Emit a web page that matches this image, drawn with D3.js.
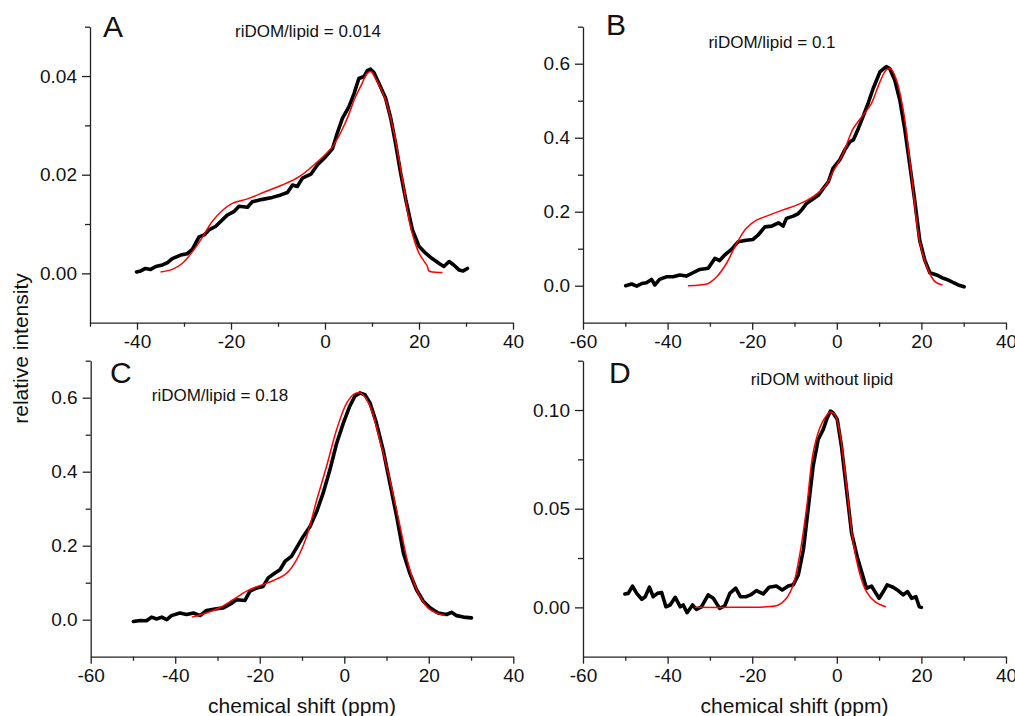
<!DOCTYPE html>
<html>
<head>
<meta charset="utf-8">
<script src="https://cdn.jsdelivr.net/npm/d3@7"></script>
<style>
	body { margin: 0; background: #fff; }
	svg text { font-family: "Liberation Sans", Arial, Helvetica, sans-serif; fill: #111; }
	.axis path, .axis line { stroke: #222; stroke-width: 1.3; }
</style>
</head>
<body>
<svg id="chart" width="1015" height="716"></svg>
<script>
// ---- data: [chemical shift (ppm), relative intensity] ----
const expA = [[-40.1,0.0003],[-39.2,0.0005],[-38.2,0.001],[-37.1,0.0008],[-36.0,0.0014],[-34.6,0.0017],
	[-33.5,0.0022],[-32.5,0.003],[-30.7,0.0037],[-29.3,0.004],[-28.2,0.0049],[-26.8,0.0074],[-25.7,0.0078],
	[-24.7,0.0088],[-23.3,0.0095],[-22.2,0.0105],[-20.8,0.0118],[-19.4,0.0125],[-18.3,0.0136],[-16.5,0.0134],
	[-15.5,0.0145],[-13.3,0.015],[-11.2,0.0154],[-9.4,0.0159],[-8.0,0.0164],[-6.9,0.0179],[-5.9,0.0176],
	[-4.8,0.0193],[-3.0,0.0201],[-1.6,0.022],[0.1,0.0236],[1.6,0.0253],[2.6,0.0284],[3.7,0.0314],[5.1,0.0338],
	[6.2,0.0365],[7.2,0.0395],[8.3,0.0399],[9.0,0.0411],[9.7,0.0414],[10.4,0.0407],[11.5,0.0385],[12.9,0.0355],
	[14.0,0.0314],[15.0,0.0264],[16.1,0.0203],[17.2,0.0149],[18.6,0.0088],[20.0,0.0055],[21.4,0.0041],
	[22.8,0.003],[24.3,0.002],[25.3,0.0014],[26.4,0.0024],[27.4,0.0017],[28.5,0.0007],[29.4,0.0005],[30.3,0.001]];
const fitA = [[-35.0,0.0003],[-32.5,0.0008],[-30.4,0.002],[-28.2,0.0044],[-26.1,0.0073],[-24.0,0.0105],
	[-21.8,0.0128],[-19.7,0.0142],[-16.2,0.0152],[-12.6,0.0166],[-9.1,0.0179],[-5.5,0.0196],[-2.0,0.0223],
	[1.6,0.0257],[4.4,0.0307],[6.5,0.0358],[7.9,0.0385],[8.7,0.0402],[9.7,0.0409],[11.1,0.0389],[12.9,0.0351],
	[14.7,0.0284],[16.5,0.0189],[18.2,0.0095],[20.0,0.0041],[21.8,0.0014],[22.1,0.0005],[25.0,0.0002]];

const expB = [[-49.9,0.0],[-48.5,0.0045],[-47.3,-0.001],[-46.1,0.006],[-45.0,0.008],[-43.8,0.017],[-43.0,0.002],
	[-41.9,0.017],[-40.3,0.024],[-38.7,0.024],[-37.1,0.029],[-35.6,0.026],[-34.0,0.035],[-32.4,0.044],[-30.4,0.047],
	[-28.8,0.074],[-27.7,0.068],[-26.5,0.083],[-24.9,0.098],[-23.3,0.119],[-21.4,0.123],[-19.8,0.125],[-18.6,0.137],
	[-17.0,0.159],[-15.4,0.161],[-13.8,0.170],[-12.7,0.161],[-11.9,0.182],[-10.3,0.188],[-9.1,0.195],[-8.3,0.205],
	[-7.1,0.223],[-5.9,0.232],[-4.3,0.245],[-3.2,0.263],[-2.0,0.281],[-0.9,0.317],[0.7,0.340],[1.9,0.367],
	[3.1,0.389],[3.9,0.394],[5.1,0.425],[6.2,0.457],[7.4,0.493],[8.6,0.533],[10.2,0.578],[11.7,0.592],[12.5,0.587],
	[13.7,0.556],[14.9,0.502],[16.1,0.421],[17.2,0.331],[18.4,0.232],[19.6,0.123],[20.8,0.069],[22.0,0.035],
	[23.6,0.029],[25.2,0.020],[26.4,0.015],[27.6,0.008],[28.7,0.002],[30.1,-0.003]];
const fitB = [[-35.2,0.0],[-32.4,0.002],[-30.4,0.006],[-28.4,0.024],[-26.1,0.060],[-23.7,0.114],[-21.4,0.155],
	[-19.0,0.177],[-16.6,0.188],[-12.7,0.205],[-8.8,0.221],[-5.6,0.241],[-2.8,0.268],[-0.9,0.308],[1.5,0.358],
	[3.9,0.425],[6.2,0.461],[8.2,0.493],[10.2,0.551],[11.7,0.583],[12.7,0.587],[14.1,0.556],[15.7,0.475],
	[17.6,0.304],[19.6,0.119],[21.6,0.042],[23.2,0.011],[25.0,0.002]];

const expC = [[-49.9,-0.005],[-48.3,-0.002],[-46.8,-0.003],[-45.6,0.007],[-44.4,0.002],[-43.2,0.007],[-42.0,0.0],
	[-40.9,0.011],[-38.9,0.018],[-37.3,0.014],[-35.7,0.018],[-34.1,0.011],[-32.6,0.025],[-30.6,0.029],[-28.6,0.032],
	[-27.1,0.041],[-25.5,0.054],[-23.5,0.052],[-22.3,0.077],[-20.7,0.086],[-19.2,0.090],[-18.0,0.113],[-16.4,0.126],
	[-15.2,0.135],[-14.0,0.158],[-12.5,0.171],[-11.3,0.194],[-9.7,0.225],[-8.1,0.252],[-6.5,0.293],[-5.0,0.342],
	[-3.4,0.405],[-1.8,0.477],[-0.2,0.532],[1.3,0.577],[2.5,0.604],[3.7,0.613],[4.9,0.608],[6.1,0.586],[7.6,0.532],
	[9.2,0.459],[10.8,0.369],[12.4,0.279],[14.0,0.180],[15.5,0.126],[17.1,0.081],[18.7,0.050],[20.3,0.032],
	[22.2,0.018],[24.2,0.014],[25.4,0.020],[26.6,0.011],[28.2,0.007],[30.1,0.005]];
const fitC = [[-36.1,0.007],[-32.6,0.018],[-29.4,0.033],[-26.3,0.054],[-23.1,0.077],[-20.0,0.092],[-16.8,0.106],
	[-13.6,0.126],[-11.3,0.162],[-8.9,0.225],[-6.5,0.324],[-4.2,0.414],[-1.8,0.514],[0.6,0.586],[2.5,0.611],
	[4.1,0.611],[6.1,0.577],[8.4,0.486],[10.8,0.378],[13.2,0.252],[15.5,0.135],[17.9,0.063],[20.3,0.027],[23.8,0.011]];

const expD = [[-50.1,0.0068],[-49.3,0.0071],[-48.3,0.0108],[-47.3,0.0071],[-46.1,0.0041],[-45.3,0.0054],
	[-44.3,0.0102],[-43.4,0.0054],[-42.4,0.0071],[-41.4,0.0075],[-40.4,0.0003],[-39.4,0.0012],[-38.2,0.0051],
	[-37.0,0.0003],[-36.3,0.0012],[-35.4,-0.0027],[-34.1,0.0012],[-33.2,-0.001],[-32.0,0.0003],[-30.4,0.0063],
	[-29.2,0.0046],[-27.7,-0.0005],[-26.5,0.0007],[-25.3,0.0071],[-23.9,0.0097],[-22.8,0.0054],[-21.5,0.0054],
	[-20.4,0.0063],[-19.0,0.0085],[-17.4,0.0068],[-16.0,0.0102],[-14.3,0.0108],[-12.9,0.0088],[-11.5,0.0108],
	[-10.3,0.0114],[-9.1,0.0164],[-7.9,0.0292],[-6.7,0.0512],[-5.6,0.0715],[-4.4,0.0851],[-3.2,0.0902],
	[-2.4,0.0953],[-1.5,0.0995],[-0.9,0.0986],[0.1,0.0953],[1.1,0.0817],[2.3,0.0597],[3.5,0.0376],[4.8,0.0258],
	[6.2,0.0156],[7.0,0.0097],[8.2,0.0108],[9.0,0.0080],[10.0,0.0046],[11.0,0.0080],[11.9,0.0114],[13.3,0.0102],
	[14.5,0.0085],[15.7,0.0063],[16.7,0.0080],[17.7,0.0046],[18.7,0.0054],[19.5,0.0003],[20.0,0.0]];
const fitD = [[-33.6,0.0],[-24.5,0.0],[-16.6,0.0003],[-13.8,0.0012],[-11.9,0.0046],[-10.3,0.0114],[-8.7,0.0275],
	[-7.1,0.0512],[-5.6,0.0783],[-4.0,0.091],[-2.8,0.0961],[-1.6,0.099],[-0.5,0.0978],[0.7,0.0885],[2.3,0.0614],
	[3.8,0.0342],[5.4,0.0173],[7.0,0.008],[9.0,0.0029],[11.6,0.0003]];

// axis ranges and ticks
const xDomains = { A: [-50, 40], B: [-60, 40], C: [-60, 40], D: [-60, 40] };
const yDomains = { A: [-0.01, 0.05], B: [-0.1, 0.7], C: [-0.1, 0.7], D: [-0.025, 0.125] };
const xMajor = { A: [-40, -20, 0, 20, 40], B: [-60, -40, -20, 0, 20, 40] };
const xMinor = [-50, -30, -10, 10, 30];
const yMajor = { A: [0, 0.02, 0.04], B: [0, 0.2, 0.4, 0.6], C: [0, 0.2, 0.4, 0.6], D: [0, 0.05, 0.1] };
const yMinor = { A: [0.01, 0.03, 0.05], B: [0.1, 0.3, 0.5, 0.7], C: [0.1, 0.3, 0.5, 0.7], D: [0.025, 0.075, 0.125] };
const yFormats = { A: ".2f", B: ".1f", C: ".1f", D: ".2f" };
const panelLetters = ["A", "B", "C", "D"];
const panelTitles = { A: "riDOM/lipid = 0.014", B: "riDOM/lipid = 0.1", C: "riDOM/lipid = 0.18", D: "riDOM without lipid" };
const expData = { A: expA, B: expB, C: expC, D: expD };
const fitData = { A: fitA, B: fitB, C: fitC, D: fitD };

// layout (pixels)
const boxes = {
	A: { left: 90, right: 513, top: 26.7, bottom: 322.7, letter: [103, 36.7], title: [308, 36.7] },
	B: { left: 583, right: 1006, top: 26.7, bottom: 322.7, letter: [606, 35], title: [772, 47.7] },
	C: { left: 90.7, right: 513.3, top: 360.7, bottom: 656.7, letter: [110, 383.3], title: [220, 400.7] },
	D: { left: 583, right: 1006, top: 360.7, bottom: 656.7, letter: [609, 383.3], title: [822, 385] }
};

// plain hyphen for negative numbers, like the original figure
const hyphen = (fmt) => (v) => d3.format(fmt)(v).replace("\u2212", "-");

const svg = d3.select("#chart");

panelLetters.forEach((key) => {
	const box = boxes[key];
	const x = d3.scaleLinear().domain(xDomains[key]).range([box.left, box.right]);
	const y = d3.scaleLinear().domain(yDomains[key]).range([box.bottom, box.top]);
	const g = svg.append("g");

	// minor ticks first, major axis on top
	g.append("g").attr("class", "axis").attr("transform", `translate(0,${box.bottom})`)
		.call(d3.axisBottom(x).tickValues(xMinor).tickFormat("").tickSize(4).tickSizeOuter(0))
		.call((a) => a.select(".domain").remove());
	g.append("g").attr("class", "axis").attr("transform", `translate(${box.left},0)`)
		.call(d3.axisLeft(y).tickValues(yMinor[key]).tickFormat("").tickSize(5).tickSizeOuter(0))
		.call((a) => a.select(".domain").remove());

	g.append("g").attr("class", "axis").attr("transform", `translate(0,${box.bottom})`)
		.call(d3.axisBottom(x).tickValues(xMajor[key] || xMajor.B).tickFormat(hyphen("d"))
			.tickSize(7).tickPadding(5).tickSizeOuter(0))
		.call((a) => a.selectAll("text").style("font-size", "19px"));
	g.append("g").attr("class", "axis").attr("transform", `translate(${box.left},0)`)
		.call(d3.axisLeft(y).tickValues(yMajor[key]).tickFormat(hyphen(yFormats[key]))
			.tickSize(8).tickPadding(5).tickSizeOuter(0))
		.call((a) => a.selectAll("text").style("font-size", "19px"));

	const line = d3.line().x((d) => x(d[0])).y((d) => y(d[1]));

	g.append("path").datum(expData[key])
		.attr("d", line)
		.attr("fill", "none").attr("stroke", "#000").attr("stroke-width", 3.6)
		.attr("stroke-linejoin", "round").attr("stroke-linecap", "round");

	g.append("path").datum(fitData[key])
		.attr("d", line.curve(d3.curveCatmullRom.alpha(0.5)))
		.attr("fill", "none").attr("stroke", "#f00").attr("stroke-width", 1.5);

	g.append("text").attr("x", box.letter[0]).attr("y", box.letter[1])
		.style("font-size", "30px").text(key);
	g.append("text").attr("x", box.title[0]).attr("y", box.title[1])
		.attr("text-anchor", "middle").style("font-size", "17px").text(panelTitles[key]);
});

// shared axis titles
svg.append("text").attr("transform", "translate(28,348.5) rotate(-90)")
	.attr("text-anchor", "middle").style("font-size", "21px").text("relative intensity");
svg.append("text").attr("x", 302).attr("y", 713).attr("text-anchor", "middle")
	.style("font-size", "21px").text("chemical shift (ppm)");
svg.append("text").attr("x", 794.5).attr("y", 713).attr("text-anchor", "middle")
	.style("font-size", "21px").text("chemical shift (ppm)");
</script>
</body>
</html>
